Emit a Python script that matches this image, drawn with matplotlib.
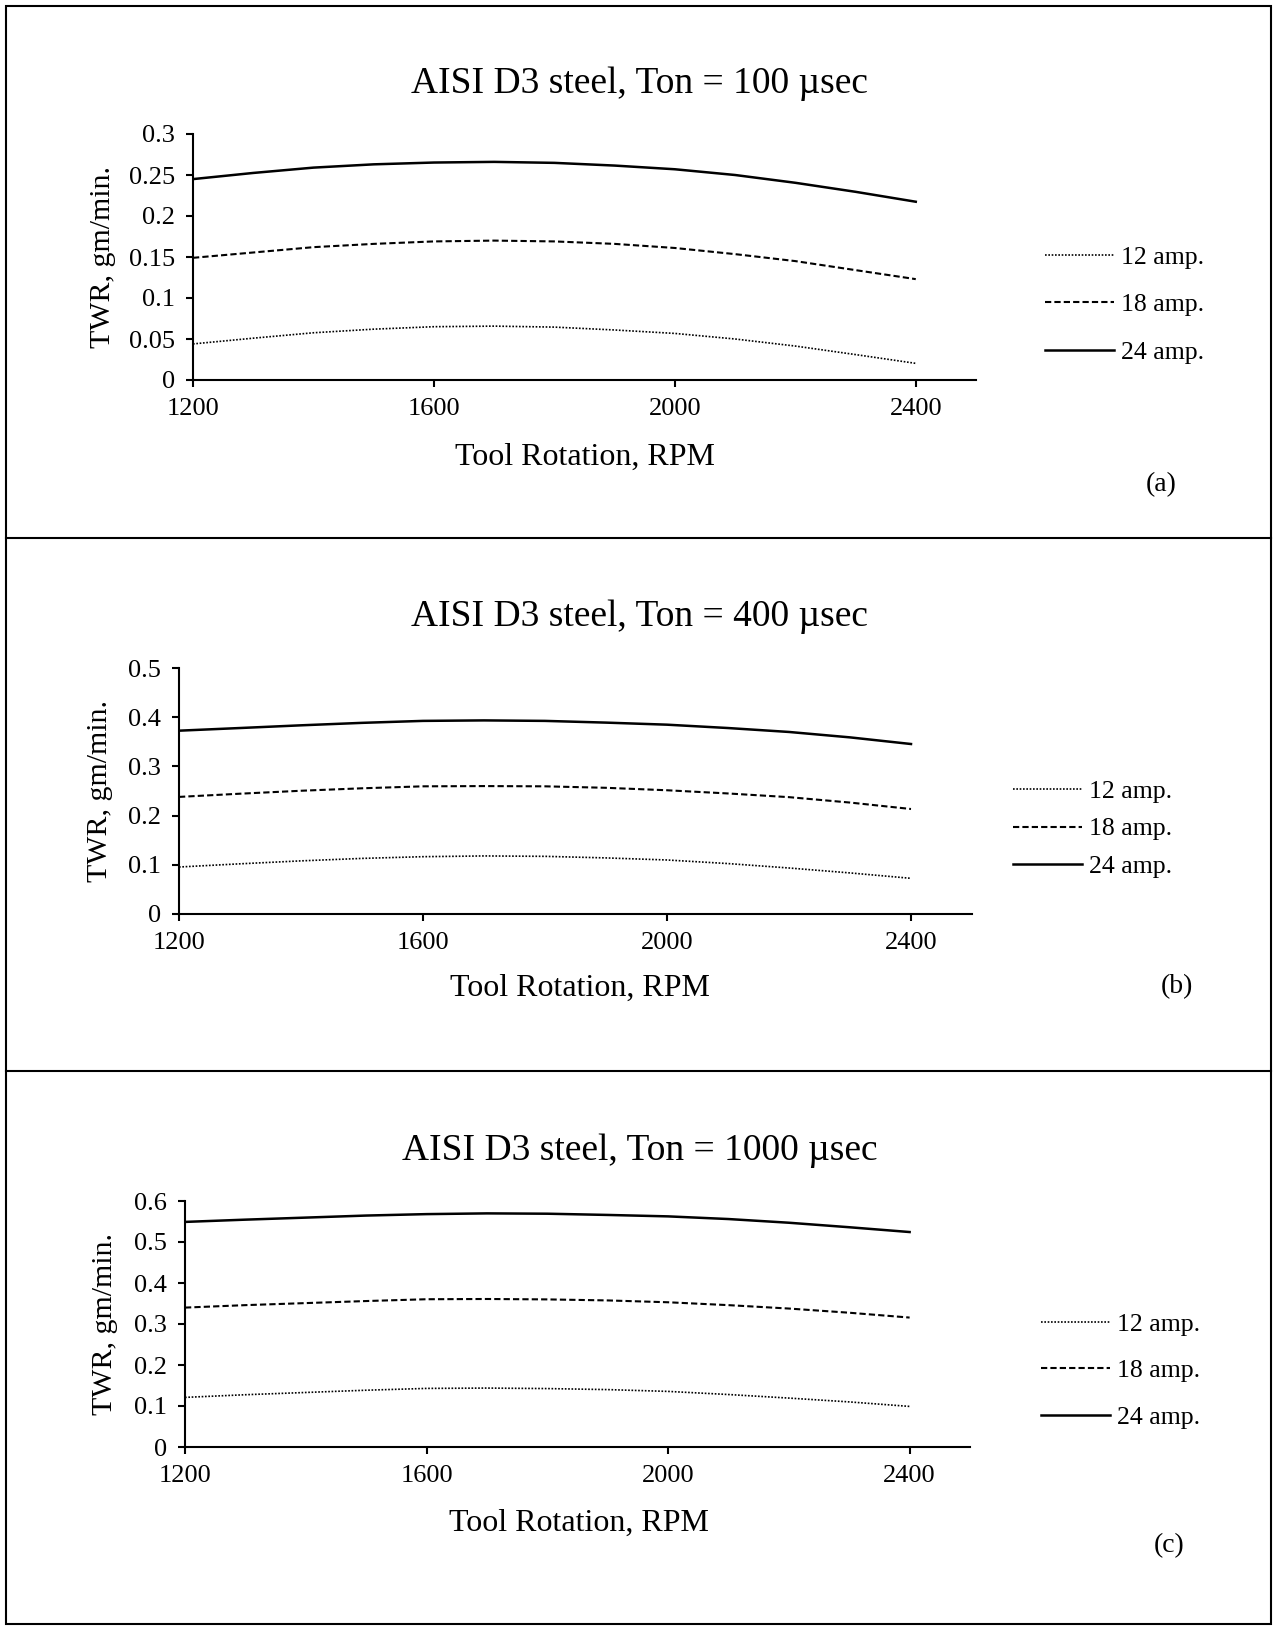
import matplotlib
matplotlib.use("Agg")
import matplotlib.pyplot as plt
from matplotlib.lines import Line2D
from matplotlib.patches import Rectangle

plt.rcParams['font.family'] = ['Liberation Serif', 'DejaVu Serif']

W, H = 1276, 1629

# tool rotation (RPM), read every 100 RPM off the curves
rpm = [1200, 1300, 1400, 1500, 1600, 1700, 1800, 1900, 2000, 2100, 2200, 2300, 2400]

# (a) Ton = 100 usec
a12 = [0.044, 0.051, 0.0576, 0.062, 0.065, 0.0657, 0.0645, 0.061, 0.0568, 0.050, 0.0414, 0.031, 0.0203]
a18 = [0.149, 0.1555, 0.162, 0.166, 0.169, 0.170, 0.169, 0.166, 0.161, 0.1535, 0.145, 0.134, 0.123]
a24 = [0.245, 0.2525, 0.259, 0.263, 0.2652, 0.266, 0.2648, 0.2615, 0.257, 0.250, 0.2405, 0.2295, 0.2174]

# (b) Ton = 400 usec
b12 = [0.0955, 0.102, 0.108, 0.113, 0.1165, 0.118, 0.1172, 0.114, 0.1098, 0.1025, 0.0935, 0.0835, 0.0725]
b18 = [0.238, 0.2445, 0.2505, 0.2555, 0.2595, 0.260, 0.2595, 0.2565, 0.2515, 0.245, 0.2375, 0.2265, 0.2134]
b24 = [0.3726, 0.378, 0.3835, 0.3885, 0.3925, 0.3935, 0.3925, 0.389, 0.3848, 0.378, 0.370, 0.359, 0.3455]

# (c) Ton = 1000 usec
c12 = [0.121, 0.1275, 0.133, 0.1385, 0.1429, 0.1437, 0.1425, 0.140, 0.1356, 0.128, 0.1193, 0.110, 0.099]
c18 = [0.340, 0.346, 0.351, 0.356, 0.3604, 0.361, 0.360, 0.3575, 0.353, 0.346, 0.3377, 0.3275, 0.3157]
c24 = [0.549, 0.5545, 0.5595, 0.5645, 0.568, 0.5698, 0.569, 0.566, 0.5625, 0.556, 0.547, 0.536, 0.5243]

titles = ["AISI D3 steel, Ton = 100 \u00b5sec",
          "AISI D3 steel, Ton = 400 \u00b5sec",
          "AISI D3 steel, Ton = 1000 \u00b5sec"]
tags = ["(a)", "(b)", "(c)"]
labels = ["12 amp.", "18 amp.", "24 amp."]
xticks = [1200, 1600, 2000, 2400]
yticks_a = [0, 0.05, 0.1, 0.15, 0.2, 0.25, 0.3]
yticks_b = [0, 0.1, 0.2, 0.3, 0.4, 0.5]
yticks_c = [0, 0.1, 0.2, 0.3, 0.4, 0.5, 0.6]


def fx(px):
    return px / W


def fy(py):
    return 1 - py / H


fig = plt.figure(figsize=(W / 100, H / 100), dpi=100)

# layout in pixels: axes box (left, right, top, bottom), title y, xlabel (x, y),
# ylabel (x, y), tag (x, y), legend anchor (x, y), legend row spacing
panels = [
    dict(data=(a12, a18, a24), yt=yticks_a, box=(193, 976, 134, 380), title=84,
         xl=(585, 457), yl=(103, 257), tag=(1161, 485), leg=(1045, 305), sp=0.95),
    dict(data=(b12, b18, b24), yt=yticks_b, box=(179, 972, 668, 914), title=617,
         xl=(580, 988), yl=(100, 791), tag=(1177, 987), leg=(1013, 829), sp=0.57),
    dict(data=(c12, c18, c24), yt=yticks_c, box=(185, 970, 1201, 1447), title=1151,
         xl=(579, 1523), yl=(105, 1324), tag=(1169, 1546), leg=(1041, 1371), sp=0.9),
]

styles = [dict(lw=1.2, linestyle=(0, (1, 1))),
          dict(lw=1.5, linestyle=(0, (3, 1.5))),
          dict(lw=1.8, linestyle='-')]

for i, p in enumerate(panels):
    l, r, t, b = p['box']
    ax = fig.add_axes([fx(l), fy(b), fx(r) - fx(l), fy(t) - fy(b)])
    handles = []
    for s, st, lab in zip(p['data'], styles, labels):
        h, = ax.plot(rpm, s, color='black', label=lab, **st)
        handles.append(h)
    ax.set_xlim(1200, 2500)
    ax.set_ylim(0, p['yt'][-1])
    ax.set_xticks(xticks)
    ax.set_yticks(p['yt'])
    ax.set_yticklabels([f"{v:g}" for v in p['yt']])
    for side in ['top', 'right']:
        ax.spines[side].set_visible(False)
    for side in ['left', 'bottom']:
        ax.spines[side].set_linewidth(1.5)
    ax.tick_params(direction='out', length=5, width=1.5, labelsize=19, pad=8)

    fig.text(fx(640), fy(p['title']), titles[i], ha='center', va='center', fontsize=27)
    fig.text(fx(p['xl'][0]), fy(p['xl'][1]), "Tool Rotation, RPM",
             ha='center', va='center', fontsize=23)
    fig.text(fx(p['yl'][0]), fy(p['yl'][1]), "TWR, gm/min.", rotation=90,
             ha='center', va='center', fontsize=21.5)
    fig.text(fx(p['tag'][0]), fy(p['tag'][1]), tags[i], ha='center', va='center', fontsize=20)
    fig.legend(handles=handles, loc='center left',
               bbox_to_anchor=(fx(p['leg'][0]), fy(p['leg'][1])),
               frameon=False, fontsize=18.5, handlelength=2.7, handletextpad=0.25,
               labelspacing=p['sp'], borderpad=0, borderaxespad=0)

# outer frame and panel dividers
fig.add_artist(Rectangle((fx(6), fy(1624)), fx(1271) - fx(6), fy(6) - fy(1624),
                         fill=False, lw=1.5, color='black', transform=fig.transFigure))
for yy in [538, 1071]:
    fig.add_artist(Line2D([fx(6), fx(1271)], [fy(yy), fy(yy)], lw=1.5, color='black',
                          transform=fig.transFigure))

fig.savefig("out.png", dpi=100)
